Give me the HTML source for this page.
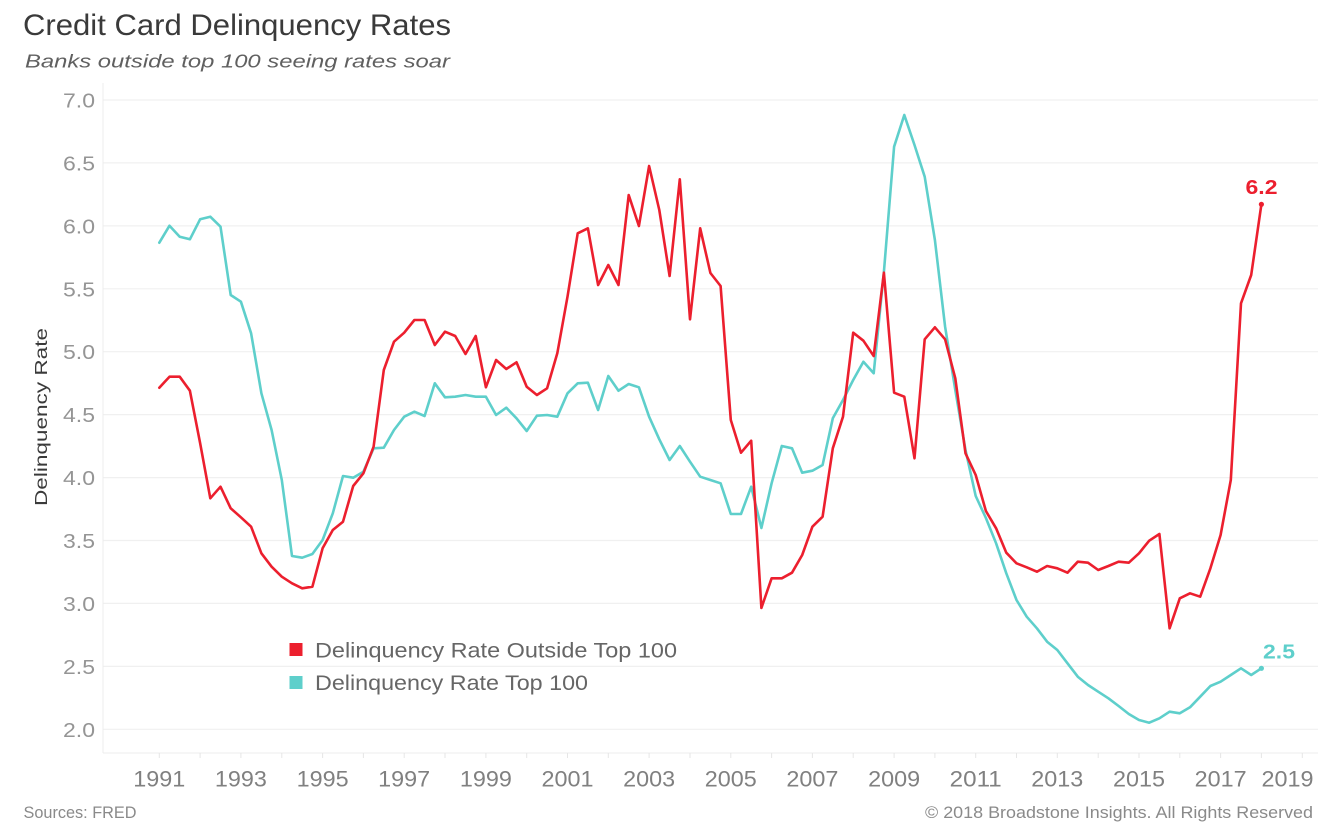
<!DOCTYPE html>
<html>
<head>
<meta charset="utf-8">
<style>
  html, body { margin:0; padding:0; background:#ffffff; }
  svg { display:block; }
  text { font-family: "Liberation Sans", Arial, sans-serif; }
</style>
</head>
<body>
<svg width="1344" height="837" viewBox="0 0 1344 837" xmlns="http://www.w3.org/2000/svg">
  <rect x="0" y="0" width="1344" height="837" fill="#ffffff"/>

  <!-- Title / subtitle -->
  <text x="23" y="35" font-size="30" fill="#3a3a3a" textLength="428" lengthAdjust="spacingAndGlyphs">Credit Card Delinquency Rates</text>
  <text x="25" y="67.5" font-size="18.5" font-style="italic" fill="#606060" textLength="425" lengthAdjust="spacingAndGlyphs">Banks outside top 100 seeing rates soar</text>

  <!-- Gridlines -->
  <g stroke="#f0f0f0" stroke-width="1.2">
    <line x1="103" y1="100" x2="1318" y2="100"/>
    <line x1="103" y1="162.9" x2="1318" y2="162.9"/>
    <line x1="103" y1="225.9" x2="1318" y2="225.9"/>
    <line x1="103" y1="288.8" x2="1318" y2="288.8"/>
    <line x1="103" y1="351.7" x2="1318" y2="351.7"/>
    <line x1="103" y1="414.6" x2="1318" y2="414.6"/>
    <line x1="103" y1="477.6" x2="1318" y2="477.6"/>
    <line x1="103" y1="540.5" x2="1318" y2="540.5"/>
    <line x1="103" y1="603.4" x2="1318" y2="603.4"/>
    <line x1="103" y1="666.4" x2="1318" y2="666.4"/>
    <line x1="103" y1="729.3" x2="1318" y2="729.3"/>
  </g>
  <!-- axes -->
  <line x1="103" y1="83" x2="103" y2="753" stroke="#ececec" stroke-width="1"/>
  <line x1="103" y1="753" x2="1318" y2="753" stroke="#ececec" stroke-width="1"/>
  <!-- ticks -->
  <g stroke="#e6e6e6" stroke-width="1">
    <line x1="159.3" y1="753" x2="159.3" y2="758"/><line x1="200.1" y1="753" x2="200.1" y2="758"/>
    <line x1="240.9" y1="753" x2="240.9" y2="758"/><line x1="281.8" y1="753" x2="281.8" y2="758"/>
    <line x1="322.6" y1="753" x2="322.6" y2="758"/><line x1="363.4" y1="753" x2="363.4" y2="758"/>
    <line x1="404.2" y1="753" x2="404.2" y2="758"/><line x1="445.0" y1="753" x2="445.0" y2="758"/>
    <line x1="485.9" y1="753" x2="485.9" y2="758"/><line x1="526.7" y1="753" x2="526.7" y2="758"/>
    <line x1="567.5" y1="753" x2="567.5" y2="758"/><line x1="608.3" y1="753" x2="608.3" y2="758"/>
    <line x1="649.1" y1="753" x2="649.1" y2="758"/><line x1="690.0" y1="753" x2="690.0" y2="758"/>
    <line x1="730.8" y1="753" x2="730.8" y2="758"/><line x1="771.6" y1="753" x2="771.6" y2="758"/>
    <line x1="812.4" y1="753" x2="812.4" y2="758"/><line x1="853.2" y1="753" x2="853.2" y2="758"/>
    <line x1="894.1" y1="753" x2="894.1" y2="758"/><line x1="934.9" y1="753" x2="934.9" y2="758"/>
    <line x1="975.7" y1="753" x2="975.7" y2="758"/><line x1="1016.5" y1="753" x2="1016.5" y2="758"/>
    <line x1="1057.3" y1="753" x2="1057.3" y2="758"/><line x1="1098.2" y1="753" x2="1098.2" y2="758"/>
    <line x1="1139.0" y1="753" x2="1139.0" y2="758"/><line x1="1179.8" y1="753" x2="1179.8" y2="758"/>
    <line x1="1220.6" y1="753" x2="1220.6" y2="758"/><line x1="1261.4" y1="753" x2="1261.4" y2="758"/>
    <line x1="1302.3" y1="753" x2="1302.3" y2="758"/>
  </g>

  <!-- Y labels -->
  <g font-size="20" fill="#959595" text-anchor="end">
    <text x="95" y="107.5" textLength="32" lengthAdjust="spacingAndGlyphs">7.0</text>
    <text x="95" y="170.4" textLength="32" lengthAdjust="spacingAndGlyphs">6.5</text>
    <text x="95" y="233.4" textLength="32" lengthAdjust="spacingAndGlyphs">6.0</text>
    <text x="95" y="296.3" textLength="32" lengthAdjust="spacingAndGlyphs">5.5</text>
    <text x="95" y="359.2" textLength="32" lengthAdjust="spacingAndGlyphs">5.0</text>
    <text x="95" y="422.1" textLength="32" lengthAdjust="spacingAndGlyphs">4.5</text>
    <text x="95" y="485.1" textLength="32" lengthAdjust="spacingAndGlyphs">4.0</text>
    <text x="95" y="548.0" textLength="32" lengthAdjust="spacingAndGlyphs">3.5</text>
    <text x="95" y="610.9" textLength="32" lengthAdjust="spacingAndGlyphs">3.0</text>
    <text x="95" y="673.9" textLength="32" lengthAdjust="spacingAndGlyphs">2.5</text>
    <text x="95" y="736.8" textLength="32" lengthAdjust="spacingAndGlyphs">2.0</text>
  </g>

  <!-- Y axis title -->
  <text transform="translate(47,417) rotate(-90)" font-size="17.5" fill="#3a3a3a" text-anchor="middle" textLength="178" lengthAdjust="spacingAndGlyphs">Delinquency Rate</text>

  <!-- X labels -->
  <g font-size="22" fill="#808080" text-anchor="middle">
    <text x="159.3" y="786.5" textLength="52" lengthAdjust="spacingAndGlyphs">1991</text>
    <text x="240.9" y="786.5" textLength="52" lengthAdjust="spacingAndGlyphs">1993</text>
    <text x="322.6" y="786.5" textLength="52" lengthAdjust="spacingAndGlyphs">1995</text>
    <text x="404.2" y="786.5" textLength="52" lengthAdjust="spacingAndGlyphs">1997</text>
    <text x="485.9" y="786.5" textLength="52" lengthAdjust="spacingAndGlyphs">1999</text>
    <text x="567.5" y="786.5" textLength="52" lengthAdjust="spacingAndGlyphs">2001</text>
    <text x="649.1" y="786.5" textLength="52" lengthAdjust="spacingAndGlyphs">2003</text>
    <text x="730.8" y="786.5" textLength="52" lengthAdjust="spacingAndGlyphs">2005</text>
    <text x="812.4" y="786.5" textLength="52" lengthAdjust="spacingAndGlyphs">2007</text>
    <text x="894.1" y="786.5" textLength="52" lengthAdjust="spacingAndGlyphs">2009</text>
    <text x="975.7" y="786.5" textLength="52" lengthAdjust="spacingAndGlyphs">2011</text>
    <text x="1057.3" y="786.5" textLength="52" lengthAdjust="spacingAndGlyphs">2013</text>
    <text x="1139.0" y="786.5" textLength="52" lengthAdjust="spacingAndGlyphs">2015</text>
    <text x="1220.6" y="786.5" textLength="52" lengthAdjust="spacingAndGlyphs">2017</text>
    <text x="1287.5" y="786.5" textLength="52" lengthAdjust="spacingAndGlyphs">2019</text>
  </g>

  <!-- Teal series (Top 100) -->
  <polyline fill="none" stroke="#5ecfcb" stroke-width="2.6" stroke-linejoin="round" stroke-linecap="round" points="
159.3,242.7 169.5,225.7 179.7,236.7 189.9,239.3 200.1,219.3 210.3,216.7 220.5,226.7 230.7,295 240.9,301.7 251.1,333.3
261.4,393.3 271.6,430 281.8,480 292.0,556 302.2,557.7 312.4,554 322.6,540 332.8,513.3 343.0,476 353.2,477.7
363.4,471.7 373.6,448.3 383.8,447.7 394.0,430 404.2,416.7 414.4,411.7 424.6,416 434.8,383.3 445.0,397.3 455.2,396.7
465.5,395 475.7,396.7 485.9,396.7 496.1,415 506.3,407.7 516.5,418.3 526.7,431 536.9,415.7 547.1,415 557.3,416.7
567.5,393.3 577.7,383.3 587.9,382.7 598.1,410 608.3,376 618.5,390.7 628.7,384 638.9,387.3 649.1,416.7 659.3,439.3
669.6,460 679.8,446 690.0,461.7 700.2,476.7 710.4,480 720.6,483.3 730.8,514 741.0,514 751.2,486.7 761.4,528
771.6,483.3 781.8,446 792.0,448.3 802.2,472.7 812.4,470.7 822.6,465 832.8,418.3 843.0,400 853.2,380 863.4,361.7
873.7,373.3 883.9,272 894.1,146.7 904.3,115 914.5,145 924.7,176.7 934.9,240 945.1,326.7 955.3,390 965.5,450
975.7,496 985.9,518 996.1,543.3 1006.3,573.3 1016.5,600 1026.7,616.7 1036.9,628.3 1047.1,641.7 1057.3,650 1067.5,663.3
1077.8,676.7 1088.0,685 1098.2,691.7 1108.4,698.3 1118.6,706 1128.8,714 1139.0,720 1149.2,722.7 1159.4,718.3 1169.6,711.7
1179.8,713.3 1190.0,707.3 1200.2,696.7 1210.4,686 1220.6,681.7 1230.8,675 1241.0,668.3 1251.2,675 1261.4,668.3"/>

  <!-- Red series (Outside Top 100) -->
  <polyline fill="none" stroke="#ec1f2e" stroke-width="2.6" stroke-linejoin="round" stroke-linecap="round" points="
159.3,387.7 169.5,376.7 179.7,376.7 189.9,390.7 200.1,443 210.3,498.3 220.5,486.7 230.7,508.3 240.9,517.3 251.1,526.7
261.4,553.3 271.6,566.7 281.8,576.7 292.0,583.3 302.2,588.3 312.4,586.7 322.6,548.3 332.8,530 343.0,521.7 353.2,486
363.4,473.3 373.6,446.7 383.8,370 394.0,341.7 404.2,332.7 414.4,320 424.6,320 434.8,345 445.0,331.7 455.2,336
465.5,354 475.7,336 485.9,387.3 496.1,360 506.3,369 516.5,362.3 526.7,386.7 536.9,395 547.1,388.3 557.3,353.3
567.5,296.7 577.7,233.3 587.9,228.3 598.1,285 608.3,265 618.5,285 628.7,195 638.9,226 649.1,166 659.3,210
669.6,276 679.8,179.3 690.0,319.3 700.2,228.3 710.4,273 720.6,286 730.8,420 741.0,452.7 751.2,440.7 761.4,608
771.6,578.3 781.8,578.3 792.0,572.7 802.2,555 812.4,526.7 822.6,516.7 832.8,448.3 843.0,416.7 853.2,332.7 863.4,340.7
873.7,356 883.9,272.7 894.1,392.7 904.3,396.7 914.5,458.3 924.7,339.3 934.9,327.3 945.1,339.3 955.3,378.3 965.5,453.3
975.7,475 985.9,511 996.1,528.3 1006.3,552.7 1016.5,563.3 1026.7,567.3 1036.9,571.7 1047.1,566 1057.3,568.3 1067.5,572.7
1077.8,561.7 1088.0,562.7 1098.2,570 1108.4,566 1118.6,561.7 1128.8,562.7 1139.0,553.3 1149.2,540.7 1159.4,534 1169.6,628.3
1179.8,598.3 1190.0,593.3 1200.2,596.7 1210.4,568.3 1220.6,535 1230.8,480 1241.0,303.3 1251.2,275 1261.4,204.3"/>

  <!-- End markers & labels -->
  <circle cx="1261.4" cy="204.3" r="2.6" fill="#ec1f2e"/>
  <circle cx="1261.4" cy="668.3" r="2.6" fill="#5ecfcb"/>
  <text x="1261.5" y="194" font-size="20" font-weight="bold" fill="#ec1f2e" text-anchor="middle" textLength="32" lengthAdjust="spacingAndGlyphs">6.2</text>
  <text x="1279" y="658.5" font-size="20" font-weight="bold" fill="#5ecfcb" text-anchor="middle" textLength="32" lengthAdjust="spacingAndGlyphs">2.5</text>

  <!-- Legend -->
  <rect x="289.5" y="643" width="13" height="13" fill="#ec1f2e"/>
  <text x="315" y="657.3" font-size="21" fill="#666666" textLength="362" lengthAdjust="spacingAndGlyphs">Delinquency Rate Outside Top 100</text>
  <rect x="289.5" y="676" width="13" height="13" fill="#5ecfcb"/>
  <text x="315" y="690" font-size="21" fill="#666666" textLength="273" lengthAdjust="spacingAndGlyphs">Delinquency Rate Top 100</text>

  <!-- Footer -->
  <text x="23.5" y="818" font-size="16.5" fill="#8a8a8a" textLength="113" lengthAdjust="spacingAndGlyphs">Sources: FRED</text>
  <text x="1313" y="818" font-size="16.5" fill="#8a8a8a" text-anchor="end" textLength="388" lengthAdjust="spacingAndGlyphs">© 2018 Broadstone Insights. All Rights Reserved</text>
</svg>
</body>
</html>
